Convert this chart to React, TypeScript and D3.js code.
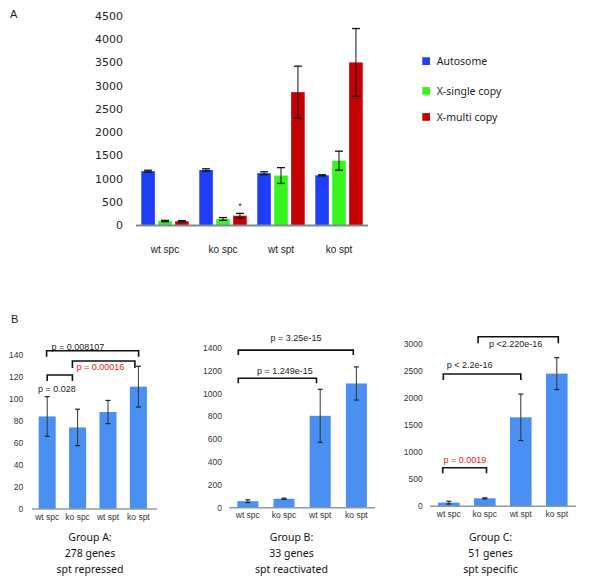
import React from "react";
import * as d3 from "d3";

// ---------- Panel A data ----------
const catsA = ["wt spc", "ko spc", "wt spt", "ko spt"];
const seriesA = ["Autosome", "X-single copy", "X-multi copy"];
const autosomeVals = [1160, 1185, 1115, 1070];
const autosomeErr = [20, 25, 30, 12];
const xSingleVals = [85, 130, 1065, 1385];
const xSingleErr = [15, 30, 170, 205];
const xMultiVals = [80, 200, 2860, 3500];
const xMultiErr = [15, 50, 560, 730];
const colorsA = ["#1d3df7", "#35f51c", "#c40000"];
const ticksA = [0, 500, 1000, 1500, 2000, 2500, 3000, 3500, 4000, 4500];

// ---------- Panel B data ----------
const catsB = ["wt spc", "ko spc", "wt spt", "ko spt"];
const groupAVals = [84, 74, 88, 111];
const groupAErr = [18, 16.5, 10.5, 18.5];
const groupBVals = [58, 79, 805, 1088];
const groupBErr = [12, 5, 232, 145];
const groupCVals = [68, 148, 1648, 2457];
const groupCErr = [25, 8, 430, 295];
const groupTitles = [
  ["Group A:", "278 genes", "spt repressed"],
  ["Group B:", "33 genes", "spt reactivated"],
  ["Group C:", "51 genes", "spt specific"],
];
const ticksGroupA = [0, 20, 40, 60, 80, 100, 120, 140];
const ticksGroupB = [0, 200, 400, 600, 800, 1000, 1200, 1400];
const ticksGroupC = [0, 500, 1000, 1500, 2000, 2500, 3000];

// brackets: from/to category, level (data units), label, color
const bracketsA = [
  { from: "wt spc", to: "ko spt", level: 143.6, label: "p = 0.008107", red: false },
  { from: "ko spc", to: "ko spt", level: 134.3, label: "p = 0.00016", red: true },
  { from: "wt spc", to: "ko spc", level: 121.6, label: "p = 0.028", red: false },
];
const bracketsB = [
  { from: "wt spc", to: "ko spt", level: 1380, label: "p = 3.25e-15", red: false },
  { from: "wt spc", to: "wt spt", level: 1133, label: "p = 1.249e-15", red: false },
];
const bracketsC = [
  { from: "ko spc", to: "ko spt", level: 3141, label: "p <2.220e-16", red: false },
  { from: "wt spc", to: "wt spt", level: 2450, label: "p < 2.2e-16", red: false },
  { from: "wt spc", to: "ko spc", level: 715, label: "p = 0.0019", red: true },
];

// layout for bracket geometry (px nudges) – layout only
const bracketLayout = [
  [
    { dx0: -0.6, dx1: 0.2, drop: 6, tdx: -14.7, tdy: -0.5 },
    { dx0: -5.2, dx1: -3.5, drop: 7, tdx: -3.2, tdy: 9.3 },
    { dx0: 0, dx1: -5.2, drop: 6, tdx: -3, tdy: 17 },
  ],
  [
    { dx0: -9.5, dx1: -3.1, drop: 5, tdx: 0.2, tdy: -8.7 },
    { dx0: -9.5, dx1: -3.7, drop: 5, tdx: 7.5, tdy: -4.3 },
  ],
  [
    { dx0: -6.7, dx1: 1.5, drop: 6.6, tdx: -2.6, tdy: 10.3 },
    { dx0: -5.5, dx1: 0, drop: 6, tdx: -12.5, tdy: -6 },
    { dx0: -6.1, dx1: 1.7, drop: 5.6, tdx: 0.3, tdy: -4.7 },
  ],
];

const SANS = "'Liberation Sans', Arial, sans-serif";
const HUM = "'Noto Sans', 'Open Sans', sans-serif";

function PanelA() {
  const x0 = d3.scaleBand<string>().domain(catsA).range([136, 368]);
  const x1 = d3
    .scaleBand<string>()
    .domain(seriesA)
    .range([5.3, 52.7])
    .paddingInner(0.2);
  const y = d3.scaleLinear().domain([0, 4500]).range([225, 16]);
  const vals = [autosomeVals, xSingleVals, xMultiVals];
  const errs = [autosomeErr, xSingleErr, xMultiErr];
  return (
    <g>
      <text x={10} y={18} fontFamily={SANS} fontSize={11} fill="#222">A</text>
      {ticksA.map((t) => (
        <text key={t} x={123} y={y(t)} dy="0.36em" textAnchor="end"
          fontFamily="'DejaVu Sans', sans-serif" fontSize={11} fill="#222">{t}</text>
      ))}
      {catsA.map((c, ci) => (
        <g key={c} transform={`translate(${x0(c)},0)`}>
          {seriesA.map((s, si) => {
            const v = vals[si][ci];
            const e = errs[si][ci];
            const bx = x1(s)!;
            const bw = x1.bandwidth();
            const cx = bx + bw / 2;
            return (
              <g key={s}>
                <rect x={bx} y={y(v)} width={bw} height={y(0) - y(v)} fill={colorsA[si]} />
                <line x1={cx} x2={cx} y1={y(v + e)} y2={y(v - e)} stroke="#111" strokeWidth={1} />
                <line x1={cx - 4} x2={cx + 4} y1={y(v + e)} y2={y(v + e)} stroke="#111" strokeWidth={1.3} />
                <line x1={cx - 4} x2={cx + 4} y1={y(v - e)} y2={y(v - e)} stroke="#111" strokeWidth={1.3} />
              </g>
            );
          })}
          <text x={x0.bandwidth() / 2} y={253} textAnchor="middle" fontFamily={SANS} fontSize={10} fill="#222">{c}</text>
        </g>
      ))}
      {(() => {
        const bx = x0("ko spc")! + x1("X-multi copy")! + x1.bandwidth() / 2;
        const top = y(xMultiVals[1] + xMultiErr[1]);
        return (
          <text x={bx} y={top - 4} textAnchor="middle" fontFamily={SANS} fontSize={9} fill="#222">*</text>
        );
      })()}
      <line x1={136} x2={368} y1={y(0) + 0.5} y2={y(0) + 0.5} stroke="#7b8e8e" strokeWidth={2} />
      {seriesA.map((s, i) => {
        const cy = [61.2, 91, 117][i];
        return (
          <g key={s}>
            <rect x={422.3} y={cy - 3.9} width={7.7} height={7.7} fill={colorsA[i]} />
            <text x={436.7} y={cy} dy="0.36em" fontFamily={HUM} fontSize={10.5} fill="#222">{s}</text>
          </g>
        );
      })}
    </g>
  );
}

type ChartCfg = {
  vals: number[];
  errs: number[];
  ticks: number[];
  yRange: [number, number];
  band: [number, number];
  pad: number;
  axis: [number, number];
  tickX: number;
  titleX: number;
  brackets: { from: string; to: string; level: number; label: string; red: boolean }[];
};

const chartCfgs: ChartCfg[] = [
  {
    vals: groupAVals, errs: groupAErr, ticks: ticksGroupA,
    yRange: [509, 354.7], band: [32, 153.6], pad: 0.44, axis: [32, 157],
    tickX: 23.3, titleX: 90, brackets: bracketsA,
  },
  {
    vals: groupBVals, errs: groupBErr, ticks: ticksGroupB,
    yRange: [507.8, 347.8], band: [229.7, 374.5], pad: 0.42, axis: [229.3, 375],
    tickX: 222, titleX: 291.5, brackets: bracketsB,
  },
  {
    vals: groupCVals, errs: groupCErr, ticks: ticksGroupC,
    yRange: [506.3, 344.3], band: [430.8, 574.8], pad: 0.4, axis: [430, 576],
    tickX: 422.7, titleX: 490.5, brackets: bracketsC,
  },
];

function GroupChart({ cfg, idx }: { cfg: ChartCfg; idx: number }) {
  const maxT = cfg.ticks[cfg.ticks.length - 1];
  const y = d3.scaleLinear().domain([0, maxT]).range(cfg.yRange);
  const x = d3
    .scaleBand<string>()
    .domain(catsB)
    .range(cfg.band)
    .paddingInner(cfg.pad)
    .paddingOuter(cfg.pad / 2);
  const bw = x.bandwidth();
  const cxOf = (c: string) => x(c)! + bw / 2;
  return (
    <g>
      {cfg.ticks.map((t) => (
        <text key={t} x={cfg.tickX} y={y(t)} dy="0.36em" textAnchor="end"
          fontFamily={SANS} fontSize={8.5} fill="#333">{t}</text>
      ))}
      {catsB.map((c, i) => {
        const v = cfg.vals[i];
        const e = cfg.errs[i];
        const cx = cxOf(c);
        return (
          <g key={c}>
            <rect x={x(c)} y={y(v)} width={bw} height={y(0) - y(v)} fill="#4a8ff2" />
            <line x1={cx} x2={cx} y1={y(v + e)} y2={y(v - e)} stroke="#333" strokeWidth={1} />
            <line x1={cx - 2.5} x2={cx + 2.5} y1={y(v + e)} y2={y(v + e)} stroke="#222" strokeWidth={1.2} />
            <line x1={cx - 2.5} x2={cx + 2.5} y1={y(v - e)} y2={y(v - e)} stroke="#222" strokeWidth={1.2} />
            <text x={cx} y={y(0) + 10.5} textAnchor="middle" fontFamily={SANS} fontSize={8.5} fill="#333">{c}</text>
          </g>
        );
      })}
      <line x1={cfg.axis[0]} x2={cfg.axis[1]} y1={y(0)} y2={y(0)} stroke="#8a9c9c" strokeWidth={1.5} />
      {cfg.brackets.map((b, bi) => {
        const L = bracketLayout[idx][bi];
        const xa = cxOf(b.from) + L.dx0;
        const xb = cxOf(b.to) + L.dx1;
        const ly = y(b.level);
        const col = b.red ? "#e0201c" : "#222";
        return (
          <g key={bi}>
            <path d={`M${xa},${ly + L.drop}V${ly}H${xb}V${ly + L.drop}`} fill="none" stroke="#111" strokeWidth={1.6} />
            <text x={(xa + xb) / 2 + L.tdx} y={ly + L.tdy} textAnchor="middle"
              fontFamily={SANS} fontSize={9} fill={col}>{b.label}</text>
          </g>
        );
      })}
      {groupTitles[idx].map((t, i) => (
        <text key={i} x={cfg.titleX} y={[540.5, 557, 572.5][i]} textAnchor="middle"
          fontFamily={HUM} fontSize={10.5} fill="#111">{t}</text>
      ))}
    </g>
  );
}

export default function App() {
  return (
    <svg width={600} height={578} style={{ position: "absolute", left: 0, top: 0, background: "#fff" }}>
      <rect x={0} y={0} width={600} height={578} fill="#fff" />
      <PanelA />
      <text x={11} y={323} fontFamily={SANS} fontSize={11} fill="#222">B</text>
      {chartCfgs.map((cfg, i) => (
        <GroupChart key={i} cfg={cfg} idx={i} />
      ))}
    </svg>
  );
}
